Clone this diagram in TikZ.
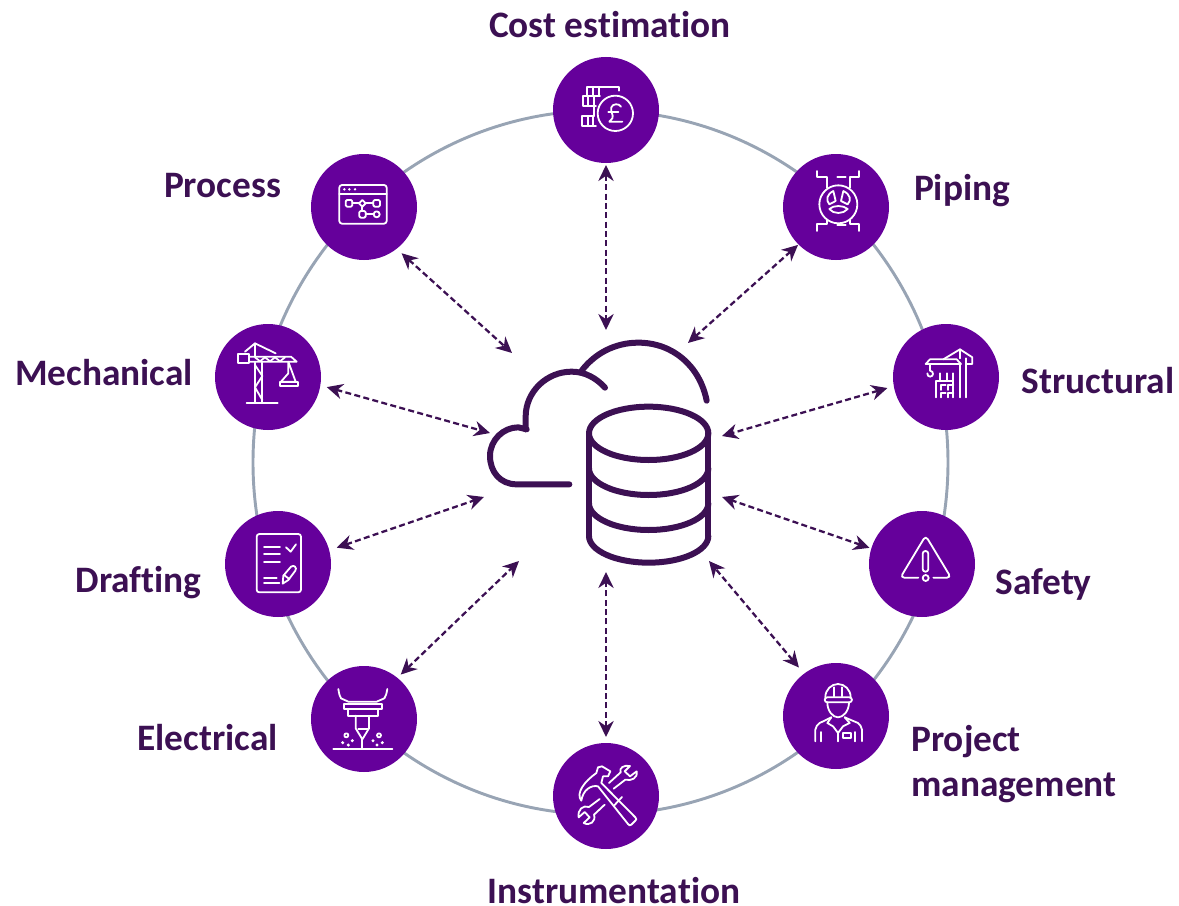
\documentclass[tikz,border=0pt]{standalone}
\usepackage{fontspec}
\setmainfont[Ligatures=NoCommon]{Carlito}
\usetikzlibrary{arrows.meta}

\definecolor{plum}{HTML}{3C1053}
\definecolor{violet}{HTML}{65009B}
\definecolor{ringgray}{HTML}{98A4B4}

\begin{document}
\begin{tikzpicture}[
  x=.75pt, y=-.75pt,
  font=\fontsize{28}{34}\selectfont\bfseries,
  disc/.style={circle, fill=violet, minimum size=79.5pt, inner sep=0pt, outer sep=0pt},
  lbl/.style={text=plum, inner sep=0pt, anchor=base},
  link/.style={draw=plum, line width=1.7pt, dash pattern=on 4.5pt off 2.5pt,
               {Stealth[length=12pt,width=11.5pt]}-{Stealth[length=12pt,width=11.5pt]}},
  hubline/.style={draw=plum, line width=4.5pt, line cap=round, line join=round},
  iconline/.style={draw=white, line width=1.35pt, line join=round, line cap=round},
  zoomed/.style 2 args={shift={(#1,#2)}, x=.25pt, y=-.25pt}
]
\useasboundingbox (0,0) rectangle (1179,906);

% Ring
\draw[ringgray, line width=2.2pt] (600.5,462.5) ellipse [x radius=347.5, y radius=352];

% Discs
\node[disc] (cost)    at (606,110) {};
\node[disc] (process) at (364,207) {};
\node[disc] (piping)  at (836,207) {};
\node[disc] (mech)    at (268,377) {};
\node[disc] (struct)  at (946,377) {};
\node[disc] (draft)   at (278,564) {};
\node[disc] (safety)  at (922,564) {};
\node[disc] (elec)    at (364,719) {};
\node[disc] (project) at (836,716) {};
\node[disc] (instr)   at (606,796) {};

% Labels
\node[lbl] (costLabel)    at (610,38)  {Cost estimation};
\node[lbl] (processLabel) at (222.5,197) {Process};
\node[lbl] (pipingLabel)  at (962,200) {Piping};
\node[lbl] (mechLabel)    at (104,385) {Mechanical};
\node[lbl] (structLabel)  at (1098,393) {Structural};
\node[lbl] (draftLabel)   at (138.5,592) {Drafting};
\node[lbl] (safetyLabel)  at (1043.5,594) {Safety};
\node[lbl] (elecLabel)    at (207.5,750) {Electrical};
\node[lbl, anchor=west, align=left] (projectLabel) at (911,764) {Project\\management};
\node[lbl] (instrLabel)   at (614,903) {Instrumentation};

% Hub ends
\coordinate (hubCost)    at (606,330);
\coordinate (hubProcess) at (512,353);
\coordinate (hubPiping)  at (688,343);
\coordinate (hubMech)    at (490,433);
\coordinate (hubStruct)  at (722,436);
\coordinate (hubDraft)   at (484,497);
\coordinate (hubSafety)  at (722,497);
\coordinate (hubElec)    at (519,561);
\coordinate (hubProject) at (709,561);
\coordinate (hubInstr)   at (606,572);

% Connectors
\draw[link, shorten <=1.5pt] (cost.-90)    -- (hubCost);
\draw[link, shorten <=5pt]   (process.-52) -- (hubProcess);
\draw[link, shorten <=.5pt]  (piping.225)  -- (hubPiping);
\draw[link, shorten <=5pt]   (mech.-9)     -- (hubMech);
\draw[link, shorten <=5pt]   (struct.190)  -- (hubStruct);
\draw[link, shorten <=6pt]   (draft.15)    -- (hubDraft);
\draw[link, shorten <=1.5pt] (safety.163)  -- (hubSafety);
\draw[link, shorten <=3.5pt] (elec.51)     -- (hubElec);
\draw[link, shorten <=6pt]   (project.127) -- (hubProject);
\draw[link, shorten <=4.5pt] (instr.90)    -- (hubInstr);

% Hub: cloud and database
\begin{scope}[zoomed={480}{330}]
  \draw[hubline] (268,463) -- (110,463) .. controls (60,463) and (30,425) .. (30,378)
    .. controls (30,330) and (70,292) .. (115,292) -- (140,298);
  \draw[hubline] (137,298) -- (137,260) .. controls (137,185) and (200,125) .. (275,125)
    .. controls (315,125) and (350,145) .. (375,173);
  \draw[hubline] (305,122) .. controls (345,70) and (405,38) .. (475,38)
    .. controls (580,38) and (660,110) .. (680,212);
  \draw[hubline] (506,310) ellipse [x radius=179, y radius=80];
  \draw[hubline] (327,310) -- (327,618) (685,310) -- (685,618);
  \draw[hubline] (327,415) arc [start angle=180, end angle=0, x radius=179, y radius=80];
  \draw[hubline] (327,520) arc [start angle=180, end angle=0, x radius=179, y radius=80];
  \draw[hubline] (327,618) arc [start angle=180, end angle=0, x radius=179, y radius=80];
\end{scope}

% Icon: bricks and pound coin
\begin{scope}[zoomed={540}{50}]
  \draw[iconline] (226,190) circle [radius=53];
  \draw[iconline] (243,170) .. controls (238,160) and (218,160) .. (214,172)
    .. controls (210,185) and (222,195) .. (217,205) -- (208,215) -- (247,215);
  \draw[iconline] (205,187) -- (235,187);
  \draw[iconline] (237,122) -- (237,110) -- (141,110) -- (141,137) -- (180,137);
  \draw[iconline] (158,112) -- (158,137) (176,112) -- (176,137);
  \draw[iconline] (141,138) -- (128,138) -- (128,168) -- (168,168);
  \draw[iconline] (145,138) -- (145,168) (162,138) -- (162,198);
  \draw[iconline] (162,198) -- (125,198) -- (125,228) -- (168,228);
  \draw[iconline] (143,198) -- (143,228) (160,198) -- (160,228);
\end{scope}

% Icon: process window
\begin{scope}[zoomed={300}{145}]
  \draw[iconline, rounded corners=2pt] (118,120) rectangle (260,236);
  \draw[iconline] (118,147) -- (260,147);
  \fill[white] (133,133) circle [radius=4] (148,133) circle [radius=4] (165,133) circle [radius=4];
  \draw[iconline, rounded corners=1pt] (137,165) rectangle (157,185);
  \draw[iconline, rounded corners=1pt] (220,165) rectangle (240,185);
  \draw[iconline] (187,165) -- (197,175) -- (187,185) -- (177,175) -- cycle;
  \draw[iconline] (157,175) -- (177,175) (197,175) -- (220,175) (187,185) -- (187,198);
  \draw[iconline, rounded corners=1pt] (178,198) rectangle (197,218);
  \draw[iconline] (230,208) circle [radius=9];
  \draw[iconline] (197,208) -- (221,208);
\end{scope}

% Icon: valve
\begin{scope}[zoomed={775}{145}]
  \draw[iconline] (190,178) circle [radius=57];
  \draw[iconline] (175,138) -- (182,168) -- (163,178) .. controls (152,165) and (155,148) .. (175,138);
  \draw[iconline] (205,138) -- (198,168) -- (218,178) .. controls (230,165) and (226,148) .. (205,138);
  \draw[iconline] (163,192) .. controls (175,180) and (205,180) .. (218,192)
    .. controls (205,208) and (175,208) .. (163,192);
  \draw[iconline] (127,78) -- (127,97) -- (155,97) -- (155,128);
  \draw[iconline] (253,78) -- (253,97) -- (225,97) -- (225,128);
  \draw[iconline] (187,95) -- (212,95);
  \draw[iconline] (127,258) -- (127,238) -- (155,238) -- (155,225);
  \draw[iconline] (253,258) -- (253,238) -- (225,238) -- (225,225);
  \draw[iconline] (187,240) -- (212,240);
\end{scope}

% Icon: crane
\begin{scope}[zoomed={205}{320}]
  \draw[iconline] (150,128) -- (150,246) (172,128) -- (172,246);
  \draw[iconline] (150,135) -- (172,168) -- (150,202) -- (172,240);
  \draw[iconline] (125,248) -- (218,248);
  \draw[iconline] (100,102) rectangle (132,130);
  \draw[iconline] (132,110) -- (258,110) -- (275,125) -- (132,125);
  \draw[iconline] (150,112) -- (165,124) -- (180,112) -- (195,124) -- (210,112) -- (225,124) -- (240,112);
  \draw[iconline] (150,70) -- (150,110);
  \draw[iconline] (120,95) -- (150,70) -- (212,100);
  \draw[iconline] (250,125) -- (250,160) -- (228,185) -- (272,185) -- cycle;
  \draw[iconline] (225,185) rectangle (280,198);
\end{scope}

% Icon: tower crane and building
\begin{scope}[zoomed={885}{320}]
  \draw[iconline] (122,132) -- (135,118) -- (215,118) -- (228,132) -- cycle;
  \draw[iconline] (175,118) -- (225,88) -- (262,112) -- (262,132) -- (245,132);
  \draw[iconline] (225,88) -- (225,115) (225,132) -- (225,232) (243,115) -- (243,232);
  \draw[iconline] (135,132) -- (135,152) .. controls (148,154) and (146,170) .. (135,170)
    .. controls (130,170) and (127,166) .. (127,160);
  \draw[iconline] (152,232) -- (152,182) -- (205,182) -- (205,232);
  \draw[iconline] (165,160) -- (165,182) (185,160) -- (185,182) (203,160) -- (203,182);
  \draw[iconline] (168,210) -- (168,195) -- (182,195) (190,210) -- (190,195) -- (205,195);
  \draw[iconline] (168,232) -- (168,218) -- (182,218) (190,232) -- (190,218) -- (205,218);
\end{scope}

% Icon: checklist
\begin{scope}[zoomed={220}{505}]
  \draw[iconline, rounded corners=2pt] (110,87) rectangle (243,262);
  \draw[iconline] (132,127) -- (180,127) (132,148) -- (180,148) (132,170) -- (180,170);
  \draw[iconline] (132,218) -- (170,218) (132,234) -- (178,234);
  \draw[iconline] (198,127) -- (212,140) -- (228,118);
  \draw[iconline] (188,236) -- (190,212) -- (213,185) .. controls (222,178) and (232,188) .. (226,197)
    -- (205,225) -- cycle;
  \draw[iconline] (192,210) -- (208,222);
\end{scope}

% Icon: warning
\begin{scope}[zoomed={865}{505}]
  \draw[iconline, rounded corners=3pt] (160,218) -- (106,218) -- (182,92) -- (258,218) -- (205,218);
  \draw[iconline, rounded corners=2pt] (173,138) rectangle (190,200);
  \draw[iconline] (182,219) circle [radius=9];
\end{scope}

% Icon: laser cutter
\begin{scope}[zoomed={305}{660}]
  \draw[iconline] (100,87) .. controls (103,105) and (104,108) .. (108,115) -- (130,125) -- (215,125)
    -- (238,115) .. controls (242,108) and (244,105) .. (247,87);
  \draw[iconline] (118,133) rectangle (230,147);
  \draw[iconline] (130,147) rectangle (218,167);
  \draw[iconline] (152,167) -- (152,205) -- (172,238) -- (192,205) -- (192,167);
  \draw[iconline] (160,207) -- (190,207) (172,238) -- (172,265);
  \draw[iconline] (85,266) -- (262,266);
  \draw[iconline] (124,226) circle [radius=6] (222,226) circle [radius=6];
  \fill[white] (113,248) circle [radius=5] (142,242) circle [radius=5] (130,255) circle [radius=5]
    (204,242) circle [radius=5] (232,248) circle [radius=5] (216,255) circle [radius=5];
\end{scope}

% Icon: worker
\begin{scope}[zoomed={778}{658}]
  \draw[iconline] (142,118) .. controls (142,95) and (160,78) .. (180,78)
    .. controls (200,78) and (218,95) .. (218,118);
  \draw[iconline, rounded corners=2pt] (140,118) rectangle (222,133);
  \draw[iconline] (168,88) -- (168,115) (192,88) -- (192,115);
  \draw[iconline] (148,133) .. controls (148,160) and (165,178) .. (180,178)
    .. controls (195,178) and (213,160) .. (213,133);
  \draw[iconline] (112,250) -- (112,215) .. controls (114,205) and (118,200) .. (125,195) -- (160,178);
  \draw[iconline] (252,250) -- (252,215) .. controls (250,205) and (246,200) .. (240,195) -- (200,178);
  \draw[iconline] (160,178) -- (148,195) -- (165,205) -- (180,225) -- (195,205) -- (215,195) -- (200,178);
  \draw[iconline] (180,225) -- (180,250);
  \draw[iconline] (130,222) -- (130,250) (232,222) -- (232,250);
  \draw[iconline] (195,225) rectangle (218,240);
\end{scope}

% Icon: hammer and wrenches
\begin{scope}[zoomed={548}{738}]
  \draw[iconline] (100,188) .. controls (82,165) and (110,130) .. (145,105) -- (150,88) -- (162,85)
    -- (187,100) -- (180,115) -- (165,115) -- (160,135) -- (262,238)
    .. controls (266,243) and (266,245) .. (262,248) -- (250,260) .. controls (246,263) and (243,263) .. (240,258)
    -- (150,145) .. controls (130,140) and (105,155) .. (100,188);
  \draw[iconline] (198,203) -- (222,177);
  \draw[iconline] (183,135) -- (218,103) .. controls (212,90) and (228,80) .. (246,84) -- (230,100)
    -- (246,115) -- (266,100) .. controls (270,120) and (250,130) .. (232,125) -- (197,152);
  \draw[iconline] (155,183) -- (123,207) .. controls (105,200) and (88,215) .. (92,238) -- (110,222)
    -- (125,238) -- (107,255) .. controls (125,265) and (145,250) .. (138,230) -- (170,200);
\end{scope}

\end{tikzpicture}
\end{document}
